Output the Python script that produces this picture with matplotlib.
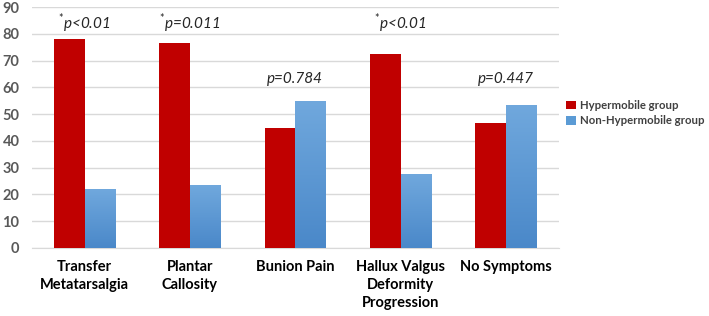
import numpy as np
import matplotlib
matplotlib.use("Agg")
import matplotlib.pyplot as plt
from matplotlib.colors import LinearSegmentedColormap

# values (percent)
categories = ["Transfer\nMetatarsalgia", "Plantar\nCallosity", "Bunion Pain",
              "Hallux Valgus\nDeformity\nProgression", "No Symptoms"]
hypermobile = [78.1, 76.7, 45.0, 72.5, 46.7]
non_hypermobile = [21.9, 23.3, 55.0, 27.5, 53.3]
p_labels = ["$^{*}$p<0.01", "$^{*}$p=0.011", "p=0.784", "$^{*}$p<0.01", "p=0.447"]
p_y = [84, 84, 63.3, 84, 63.3]
yticks = list(range(0, 100, 10))

plt.rcParams['font.family'] = ['Lato', 'DejaVu Sans']
plt.rcParams['mathtext.fontset'] = 'custom'
plt.rcParams['mathtext.rm'] = 'Lato'

fig = plt.figure(figsize=(7.09, 3.16), dpi=100)
ax = fig.add_axes([0.045, 0.216, 0.743, 0.761])

x = np.arange(len(categories))
w = 0.29
ax.bar(x - w / 2, hypermobile, w, color="#C00000", label="Hypermobile group", zorder=3)
blue = ax.bar(x + w / 2, non_hypermobile, w, color="#5B9BD5", label="Non-Hypermobile group", zorder=3)

# light vertical gradient on the blue bars
cmap = LinearSegmentedColormap.from_list("bl", ["#4A88C9", "#70A8DD"])
grad = np.linspace(0, 1, 256).reshape(-1, 1)
for r in blue:
    bx, by = r.get_x(), r.get_y()
    im = ax.imshow(grad, cmap=cmap, aspect="auto", origin="lower",
                   extent=[bx, bx + r.get_width(), by, by + r.get_height()], zorder=3.5)
    im.set_clip_path(r)

for xi, lab, yy in zip(x, p_labels, p_y):
    ax.text(xi, yy, lab, ha="center", va="center", fontsize=11, style="italic",
            color="#262626")

ax.set_xlim(-0.5, len(categories) - 0.5)
ax.set_ylim(0, 90)
ax.set_yticks(yticks)
ax.yaxis.grid(True, color="#D9D9D9", linewidth=1, zorder=0)
for s in ["top", "right", "left"]:
    ax.spines[s].set_visible(False)
ax.spines["bottom"].set_color("#D9D9D9")
ax.tick_params(axis="both", length=0)
ax.tick_params(axis="y", labelsize=10.5, labelcolor="#595959", pad=9)
ax.tick_params(axis="x", labelsize=10.5, pad=9)
for t in ax.get_yticklabels():
    t.set_fontweight("bold")
ax.set_xticks(x)
ax.set_xticklabels(categories, fontweight="bold", linespacing=1.35)

fig.legend(loc="center left", bbox_to_anchor=(0.799, 0.642), frameon=False,
           borderaxespad=0, borderpad=0,
           handlelength=0.8, handleheight=0.8, handletextpad=0.4, labelspacing=0.4,
           prop={"weight": "bold", "size": 8.2})
for t in fig.legends[0].get_texts():
    t.set_color("#404040")

fig.savefig("out.png", dpi=100)
